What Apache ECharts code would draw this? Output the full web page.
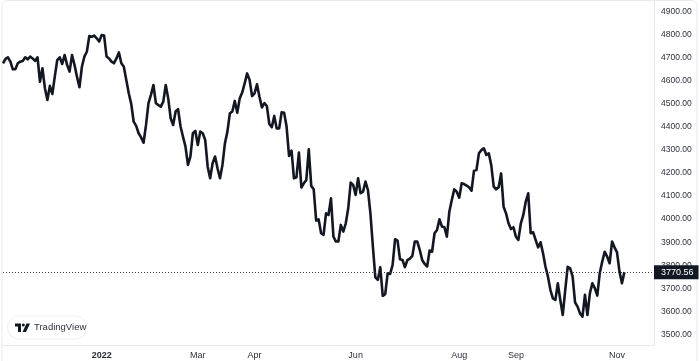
<!DOCTYPE html>
<html>
<head>
<meta charset="utf-8">
<style>html,body{margin:0;padding:0;background:#fff}#main{width:700px;height:361px}</style>
<script src="https://cdn.jsdelivr.net/npm/echarts@6/dist/echarts.min.js"></script>
</head>
<body>
<div id="main"></div>
<script>
var closes=[4675,4694,4701,4682,4649,4649,4675,4682,4685,4701,4692,4704,4696,4685,4701,
4595,4653,4567,4516,4577,4542,4617,4689,4701,4672,4711,4668,4639,4711,4668,4617,4571,4660,4704,4725,4793,4790,4795,4783,4769,4797,4795,
4704,4696,4682,4675,4696,4722,4675,4660,4603,4545,4499,4422,4404,4372,4354,4331,4408,4502,4538,4581,4502,4494,4487,4509,4581,4523,4437,4408,4466,4476,4401,4357,4314,4235,4271,4372,4382,4321,4379,4372,4343,4227,4177,4242,4271,4220,4177,4235,4329,4379,4458,4466,
4512,4461,4523,4548,4588,4631,4603,4533,4545,4584,4530,4484,4502,4490,4412,4398,4447,4393,4393,4463,4461,4401,4274,4297,4177,4181,4288,4137,4155,4170,4302,4144,4129,3994,3999,3939,3932,4025,4018,4090,3924,3903,3903,3975,3946,3982,4047,4158,4148,4105,4177,4112,4119,4163,4126,4025,3881,3748,3737,3792,3668,3675,3766,3763,3802,3913,3907,3826,3823,3792,3823,3829,3841,3903,3903,3867,3823,3806,3795,3864,3859,
3939,3953,3999,3968,3965,3924,4032,4083,4129,4119,4093,4155,4152,4145,4138,4123,4210,4213,4285,4299,4307,4278,4285,4234,4141,4129,4138,4198,4054,4025,3982,3957,3965,3924,3910,3982,4018,4076,4112,3939,3943,3910,3878,3900,3852,3794,3751,3693,3657,3650,3722,3650,3585,3693,3794,3787,3751,3639,3621,3592,3578,3672,3585,3679,3722,3701,3669,3766,3816,3859,3838,3809,3903,3878,3856,3773,3722,3770.56];
var lastPrice=3770.56;
var monthIndex=[40,79,102,143,185,208,249];
var monthLabels=['2022','Mar','Apr','Jun','Aug','Sep','Nov'];
var priceTicks=[3500,3600,3700,3800,3900,4000,4100,4200,4300,4400,4500,4600,4700,4800,4900];

var cats=[];
for(var i=0;i<265;i++){
    var k=monthIndex.indexOf(i);
    cats.push(k>=0?monthLabels[k]:'');
}

var myChart=echarts.init(document.getElementById('main'),null,{renderer:'canvas'});
var font='"Liberation Sans"';
var option={
    animation:false,
    backgroundColor:'#fff',
    grid:{left:3,right:46,top:0,bottom:16},
    xAxis:{
        type:'category',
        data:cats,
        boundaryGap:false,
        axisLine:{show:true,lineStyle:{color:'#e6e7ec',width:1}},
        axisTick:{show:false},
        splitLine:{show:false},
        axisLabel:{
            interval:function(i,v){return v!=='';},
            hideOverlap:false,
            margin:6,
            fontFamily:font,
            fontSize:9,
            color:'#2e313c',
            formatter:function(v){return v==='2022'?'{b|2022}':v;},
            rich:{b:{fontFamily:font,fontSize:9,fontWeight:'bold',color:'#2a2d38'}}
        }
    },
    yAxis:{
        type:'value',
        position:'right',
        min:3455,
        max:4949,
        axisLine:{show:true,lineStyle:{color:'#e6e7ec',width:1}},
        axisTick:{show:false},
        splitLine:{show:false},
        axisLabel:{
            customValues:priceTicks,
            margin:7,
            fontFamily:font,
            fontSize:8.5,
            color:'#2e313c',
            formatter:function(v){return v.toFixed(2);}
        }
    },
    series:[{
        type:'line',
        data:closes,
        symbol:'none',
        smooth:false,
        lineStyle:{color:'#131722',width:2.6,join:'round'},
        markLine:{
            silent:true,
            symbol:'none',
            lineStyle:{color:'#3a3d48',type:[1,2],width:1},
            label:{
                position:'end',
                distance:0,
                formatter:lastPrice.toFixed(2),
                backgroundColor:'#131722',
                color:'#fff',
                fontFamily:font,
                fontSize:9,
                padding:[3,5,2,7]
            },
            data:[{yAxis:lastPrice}]
        }
    }],
    graphic:[
        {type:'rect',silent:true,z:-1,shape:{x:2,y:0.5,width:695,height:370,r:6},style:{fill:'none',stroke:'#e9eaf0',lineWidth:1}},
        {type:'rect',silent:true,shape:{x:7.5,y:316,width:79.5,height:23,r:11.5},style:{fill:'#fff',stroke:'#eff0f3',lineWidth:1}},
        {type:'polygon',silent:true,shape:{points:[[15,323.5],[21,323.5],[21,332],[18,332],[18,326.5],[15,326.5]]},style:{fill:'#131722'}},
        {type:'circle',silent:true,shape:{cx:23.3,cy:325,r:1.5},style:{fill:'#131722'}},
        {type:'polygon',silent:true,shape:{points:[[26.5,323.5],[30,323.5],[26,332],[22.5,332]]},style:{fill:'#131722'}},
        {type:'text',silent:true,style:{x:34,y:327.5,text:'TradingView',fill:'#2e313c',font:'9.5px "Liberation Sans"',textVerticalAlign:'middle'}}
    ]
};
myChart.setOption(option);
</script>
</body>
</html>
